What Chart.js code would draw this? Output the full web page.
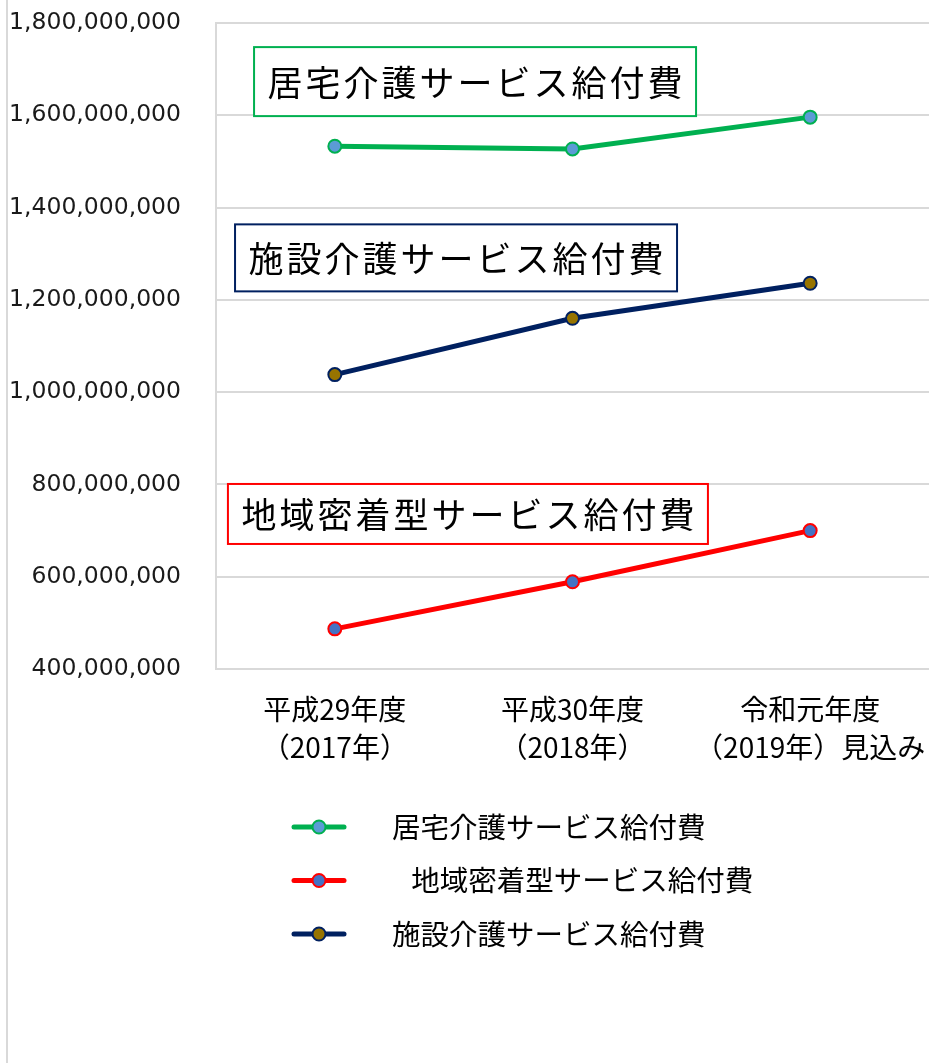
<!DOCTYPE html>
<html lang="ja">
<head>
<meta charset="utf-8">
<title>介護サービス給付費の推移</title>
<script src="https://cdn.jsdelivr.net/npm/chart.js@4.4.1/dist/chart.umd.min.js"></script>
<style>
  html, body { margin: 0; padding: 0; background: #fff; }
  #wrap { position: relative; width: 929px; height: 1063px; }
</style>
</head>
<body>
<div id="wrap"><canvas id="kaigoChart" width="929" height="1063"></canvas></div>
<script>
// categories (fiscal years)
const yearLabels = [
  ['平成29年度', '（2017年）'],
  ['平成30年度', '（2018年）'],
  ['令和元年度', '（2019年）見込み']
];

// series values (yen)
const kyotakuValues = [1533000000, 1527000000, 1596000000];
const chiikiValues  = [487000000, 589000000, 700000000];
const shisetsuValues = [1038000000, 1160000000, 1236000000];

const seriesNames = ['居宅介護サービス給付費', '   地域密着型サービス給付費', '施設介護サービス給付費'];

// y axis
const Y_MIN  = 400000000;
const Y_MAX  = 1800000000;
const Y_STEP = 200000000;

// boxed captions inside the plot: text, border colour, category index, value
const captionTexts  = ['居宅介護サービス給付費', '施設介護サービス給付費', '地域密着型サービス給付費'];
const captionColors = ['#00b050', '#002060', '#ff0000'];
const captionX      = [0.59, 0.51, 0.56];
const captionY      = [1673000000, 1291000000, 736000000];
const captionH      = [69, 67, 60];

const JP_FONT = '"Noto Sans CJK JP", "Noto Sans", sans-serif';
const HIDDEN  = 'rgba(0,0,0,0)';

// left frame line
const framePlugin = {
  id: 'frame',
  beforeDraw(chart) {
    const ctx = chart.ctx;
    ctx.save();
    ctx.strokeStyle = '#d9d9d9';
    ctx.lineWidth = 2;
    ctx.beginPath();
    ctx.moveTo(7, 0);
    ctx.lineTo(7, chart.height);
    ctx.stroke();
    ctx.restore();
  }
};

// boxed text captions, anchored on the chart scales
const captionPlugin = {
  id: 'captions',
  afterDatasetsDraw(chart) {
    const ctx = chart.ctx;
    const xs = chart.scales.x, ys = chart.scales.y;
    ctx.save();
    ctx.font = '35px ' + JP_FONT;
    ctx.letterSpacing = '3px';
    ctx.textAlign = 'center';
    ctx.textBaseline = 'middle';
    captionTexts.forEach((t, i) => {
      const cx = xs.getPixelForValue(captionX[i]);
      const cy = ys.getPixelForValue(captionY[i]);
      const w = ctx.measureText(t).width + 24;
      const h = captionH[i];
      ctx.fillStyle = '#fff';
      ctx.fillRect(cx - w / 2, cy - h / 2, w, h);
      ctx.strokeStyle = captionColors[i];
      ctx.lineWidth = 2;
      ctx.strokeRect(cx - w / 2, cy - h / 2, w, h);
      ctx.fillStyle = '#000';
      ctx.fillText(t, cx + 1.5, cy + 1);
    });
    ctx.restore();
  }
};

// vertical legend under the axis
const legendPlugin = {
  id: 'vlegend',
  afterDraw(chart) {
    const ctx = chart.ctx;
    const top = chart.chartArea.bottom + 158;
    ctx.save();
    ctx.font = '28.5px ' + JP_FONT;
    ctx.textBaseline = 'middle';
    chart.data.datasets.forEach((ds, i) => {
      const y = top + i * 53.5;
      ctx.strokeStyle = ds.borderColor;
      ctx.lineWidth = 5;
      ctx.lineCap = 'round';
      ctx.beginPath();
      ctx.moveTo(294, y);
      ctx.lineTo(344, y);
      ctx.stroke();
      ctx.beginPath();
      ctx.arc(319, y, 6.5, 0, Math.PI * 2);
      ctx.fillStyle = ds.pointBackgroundColor;
      ctx.fill();
      ctx.lineWidth = 2;
      ctx.strokeStyle = ds.pointBorderColor;
      ctx.stroke();
      ctx.fillStyle = '#000';
      ctx.fillText(ds.label, 392, y);
    });
    ctx.restore();
  }
};

function lineSet(label, data, line, fill) {
  return {
    label, data,
    borderColor: line,
    borderWidth: 5,
    pointRadius: 6.5,
    pointBorderWidth: 2,
    pointBorderColor: line,
    pointBackgroundColor: fill,
    tension: 0,
    clip: false
  };
}

new Chart(document.getElementById('kaigoChart'), {
  type: 'line',
  data: {
    labels: yearLabels,
    datasets: [
      lineSet(seriesNames[0], kyotakuValues, '#00b050', '#5b9bd5'),
      lineSet(seriesNames[1], chiikiValues, '#ff0000', '#4472c4'),
      lineSet(seriesNames[2], shisetsuValues, '#002060', '#977400')
    ]
  },
  options: {
    responsive: false,
    animation: false,
    layout: { autoPadding: false, padding: { top: 23, right: 0, bottom: 297, left: 0 } },
    plugins: {
      legend: { display: false },
      tooltip: { enabled: false }
    },
    scales: {
      x: {
        offset: true,
        grid: { color: HIDDEN, tickColor: HIDDEN, drawTicks: true, tickLength: 21 },
        border: { color: '#d9d9d9', width: 2 },
        ticks: {
          color: '#000',
          padding: 0,
          maxRotation: 0,
          font: { family: JP_FONT, size: 28, lineHeight: 1.357 }
        }
      },
      y: {
        min: Y_MIN,
        max: Y_MAX,
        afterFit(scale) { scale.width = 216; },
        grid: { color: '#d9d9d9', lineWidth: 2, drawTicks: true, tickLength: 35, tickColor: HIDDEN },
        border: { color: '#d9d9d9', width: 2 },
        ticks: {
          stepSize: Y_STEP,
          color: '#1a1a1a',
          padding: 0,
          font: { family: '"DejaVu Sans", Verdana, sans-serif', size: 23.5 },
          callback: v => v.toLocaleString('en-US')
        }
      }
    }
  },
  plugins: [framePlugin, captionPlugin, legendPlugin]
});
</script>
</body>
</html>
